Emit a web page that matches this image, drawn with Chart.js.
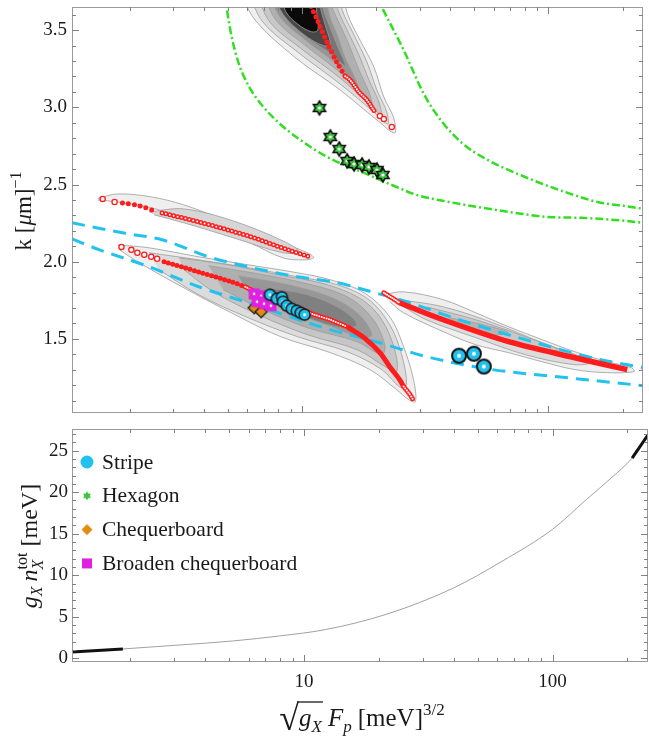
<!DOCTYPE html>
<html>
<head>
<meta charset="UTF-8">
<title>k vs sqrt(gX) Fp</title>
<script src="https://cdn.jsdelivr.net/npm/chart.js"></script>
<style>
  body { margin: 0; background: #fff; }
  #wrap { position: relative; width: 649px; height: 737px; }
  canvas { position: absolute; left: 0; }
  #top { top: 0; }
  #bot { top: 420px; }
</style>
</head>
<body>
<div id="wrap">
  <canvas id="top" width="649" height="420"></canvas>
  <canvas id="bot" width="649" height="317"></canvas>
</div>
<script>
// ---------- axes ----------
const xLimits = [1.167, 242];
const xMajor = [10, 100];
const xMinor = [2, 3, 4, 5, 6, 7, 8, 9, 20, 30, 40, 50, 60, 70, 80, 90, 200];

const kLimits = [1.02, 3.65];
const kMajor = [1.5, 2.0, 2.5, 3.0, 3.5];
const kMinor = [1.1, 1.2, 1.3, 1.4, 1.6, 1.7, 1.8, 1.9, 2.1, 2.2, 2.3, 2.4, 2.6, 2.7, 2.8, 2.9, 3.1, 3.2, 3.3, 3.4, 3.6];

const nLimits = [-0.45, 27.6];
const nMajor = [0, 5, 10, 15, 20, 25];
const nMinor = [1, 2, 3, 4, 6, 7, 8, 9, 11, 12, 13, 14, 16, 17, 18, 19, 21, 22, 23, 24, 26, 27];

// ---------- contour levels (outer -> inner), [x, k] ----------
const blobA = [
  [[5.62,3.75],[6.46,3.565],[9.35,3.325],[14.3,3.112],[20.14,2.918],[23.79,2.834],[23.57,2.931],[21.49,3.067],[19.59,3.261],[17.21,3.435],[15.26,3.61],[14.85,3.75]],
  [[6.05,3.75],[6.95,3.552],[9.61,3.358],[14.3,3.151],[19.77,2.963],[22.3,2.892],[22.09,2.97],[20.14,3.112],[18.36,3.293],[16.28,3.468],[14.57,3.629],[14.17,3.75]],
  [[6.51,3.75],[7.42,3.552],[9.88,3.383],[14.3,3.189],[18.7,3.021],[20.9,2.957],[20.52,3.034],[18.7,3.177],[17.05,3.338],[15.26,3.5],[13.91,3.642],[13.53,3.75]],
  [[6.95,3.75],[7.84,3.565],[10.16,3.409],[13.91,3.241],[17.37,3.099],[19.23,3.021],[18.7,3.099],[17.05,3.241],[15.55,3.403],[14.3,3.532],[13.16,3.662],[12.92,3.75]],
  [[7.28,3.75],[8.21,3.578],[10.35,3.435],[13.53,3.293],[15.98,3.177],[17.21,3.099],[16.43,3.189],[14.98,3.319],[13.91,3.468],[12.92,3.597],[12.45,3.75]],
  [[7.45,3.75],[8.4,3.6],[10.4,3.455],[13.04,3.35],[14.98,3.27],[13.91,3.4],[12.92,3.53],[12.2,3.64],[12.0,3.75]],
  [[7.6,3.75],[8.4,3.6],[10.2,3.47],[12.2,3.4],[13.0,3.41],[12.5,3.52],[11.9,3.64],[11.7,3.75]],
  [[8.1,3.75],[8.6,3.62],[9.6,3.54],[10.9,3.49],[11.6,3.5],[11.5,3.6],[11.3,3.75]]
];
const blobB = [
  [[1.484,2.41],[1.785,2.439],[2.446,2.42],[3.318,2.368],[4.502,2.29],[6.166,2.206],[8.37,2.122],[10.74,2.051],[11.15,2.025],[10.2,2.012],[8.37,2.025],[6.166,2.122],[4.502,2.206],[3.318,2.284],[2.446,2.349],[1.785,2.387],[1.484,2.4]],
  [[2.401,2.323],[3.318,2.342],[5.27,2.264],[8.37,2.135],[9.79,2.064],[8.37,2.058],[5.27,2.155],[3.318,2.252],[2.52,2.303]]
];
const blobC = [
  [[1.786,2.109],[2.401,2.09],[3.812,2.032],[6.053,1.98],[9.61,1.928],[13.04,1.883],[17.86,1.799],[22.71,1.643],[25.85,1.449],[28.36,1.236],[28.88,1.094],[27.08,1.107],[24.23,1.171],[18.87,1.301],[13.04,1.411],[8.21,1.514],[5.17,1.669],[3.257,1.838],[2.189,1.993],[1.819,2.077]],
  [[2.401,2.058],[3.812,2.012],[6.053,1.961],[9.61,1.902],[13.91,1.851],[18.7,1.754],[22.71,1.592],[25.38,1.398],[26.58,1.204],[25.15,1.184],[21.09,1.301],[15.26,1.417],[9.61,1.514],[6.053,1.637],[3.812,1.786],[2.633,1.948]],
  [[3.168,2.025],[5.03,1.98],[7.988,1.916],[12.68,1.851],[17.53,1.754],[21.09,1.624],[23.79,1.43],[24.23,1.288],[22.09,1.314],[16.74,1.43],[10.54,1.527],[6.639,1.657],[4.379,1.805],[3.318,1.948]],
  [[4.181,1.974],[6.639,1.922],[10.54,1.857],[15.26,1.773],[19.23,1.637],[21.69,1.462],[21.09,1.398],[16.74,1.482],[10.54,1.572],[6.95,1.689],[4.8,1.818]],
  [[5.518,1.909],[8.762,1.851],[13.28,1.766],[17.05,1.657],[19.23,1.527],[17.53,1.508],[12.68,1.592],[8.37,1.702],[6.053,1.805]],
  [[7.282,1.831],[10.54,1.786],[14.57,1.689],[16.74,1.592],[14.57,1.572],[10.54,1.637],[7.988,1.734]]
];
const blobD = [
  [[21.49,1.786],[25.86,1.805],[37.43,1.754],[50.78,1.669],[68.9,1.579],[94.36,1.495],[128,1.417],[173.6,1.352],[216.8,1.314],[222.9,1.288],[173.6,1.281],[128,1.301],[94.36,1.352],[68.9,1.411],[50.78,1.462],[37.43,1.547],[25.86,1.669],[22.71,1.741]],
  [[24.91,1.754],[37.43,1.708],[59.44,1.605],[94.36,1.475],[149.8,1.352],[128,1.333],[80.63,1.398],[50.78,1.508],[31.98,1.624],[25.85,1.708]],
  [[31.98,1.708],[50.78,1.624],[80.63,1.514],[109.4,1.43],[80.63,1.443],[50.78,1.54],[35.08,1.643]],
  [[39.56,1.637],[54.2,1.592],[68.9,1.54],[55.7,1.527],[43.4,1.579]]
];

// ---------- curves ----------
const greenInner = [[4.85,3.73],[4.94,3.649],[5.17,3.468],[5.518,3.293],[6.053,3.144],[6.825,3.021],[7.988,2.905],[9.61,2.801],[12.68,2.678],[17.86,2.575],[24.23,2.484],[29.15,2.433],[39.56,2.387],[54.2,2.349],[73.51,2.316],[99.7,2.29],[136.6,2.284],[185.3,2.271],[242,2.252]];
const greenOuter = [[19.95,3.73],[21.1,3.649],[25.86,3.371],[31.39,3.08],[37.08,2.905],[44.62,2.769],[55.7,2.666],[86,2.53],[116.7,2.452],[158.3,2.387],[216.8,2.355],[242,2.342]];
const cyanUpper = [[1.167,2.252],[1.87,2.187],[2.71,2.142],[4.18,2.032],[6.05,1.967],[9.61,1.902],[13.9,1.864],[17.9,1.818],[27.4,1.734],[43.4,1.624],[80.7,1.495],[150,1.378],[242,1.314]];
const cyanLower = [[1.167,2.148],[1.51,2.077],[2.4,1.967],[3.81,1.838],[6.05,1.734],[12.3,1.572],[20.7,1.475],[32,1.385],[59.4,1.301],[109,1.255],[242,1.197]];

// red mean-field branches: filled dots, open-ring chains, thick solid parts
const redA_dots = [[10.6,3.72],[10.74,3.675],[11.56,3.565],[12.68,3.416],[13.91,3.287],[14.98,3.202]];
const redA_rings = [[14.98,3.202],[15.69,3.177],[17.05,3.099],[18.36,3.047],[19.77,2.97]];
const redA_tip = [[20.71,2.944],[21.49,2.924],[23.15,2.873]];
const redB_tip = [[1.554,2.407],[1.737,2.387]];
const redB_dots = [[1.87,2.381],[2.189,2.362],[2.585,2.323]];
const redB_rings = [[2.707,2.316],[3.812,2.258],[6.053,2.167],[8.762,2.077],[10.74,2.032]];
const redC_tip = [[1.853,2.096],[2.032,2.077],[2.149,2.058],[2.292,2.045],[2.446,2.032],[2.585,2.019]];
const redC_dots = [[2.758,1.999],[3.812,1.934],[5.17,1.87],[5.888,1.838]];
const redC_rings = [[5.888,1.838],[7.49,1.754],[9.35,1.708],[11.25,1.656],[13.04,1.624],[15.26,1.579]];
const redC_thick = [[15.26,1.579],[17.86,1.508],[20.71,1.411],[22.71,1.32],[24.91,1.236],[25.85,1.191]];
const redC_end = [[25.85,1.191],[27.08,1.152],[28.1,1.113]];
const redD_thin = [[21.49,1.799],[24.91,1.734]];
const redD_thick = [[24.91,1.734],[37.43,1.624],[68.9,1.482],[128,1.378],[208.9,1.301]];

// ---------- simulation markers ----------
const hexagon = [[11.78,2.996],[13.04,2.808],[14.17,2.73],[15.26,2.653],[16.28,2.633],[17.53,2.627],[18.7,2.614],[20.14,2.594],[21.29,2.562]];
const stripeBig = [[43.4,1.391],[49.85,1.404],[54.7,1.321]];
const stripeSmall = [[7.42,1.786],[7.91,1.76],[8.29,1.77],[8.37,1.741],[8.68,1.715],[9.09,1.695],[9.52,1.682],[9.88,1.669],[10.25,1.657]];
const chequer = [[6.4,1.702],[6.83,1.676]];
const broaden = [[6.4,1.792],[6.83,1.779],[7.28,1.766],[6.58,1.741],[7.02,1.728],[7.49,1.715]];

// ---------- bottom panel ----------
const nTotX = [1.167, 1.87, 3.17, 5.17, 7.99, 12.2, 21.49, 39.56, 62.8, 99.7, 136.6, 173.6, 208.9, 242];
const nTotY = [0.76, 1.12, 1.6, 2.08, 2.69, 3.45, 5.3, 8.4, 11.7, 15.5, 19.1, 21.8, 24.1, 26.9];

const legendNames = ['Stripe', 'Hexagon', 'Chequerboard', 'Broaden chequerboard'];

// ---------- styles ----------
const RED = '#ff1c1c', CYAN = '#22c2ef', GREEN = '#33dd22', STAR = '#3cc43c';
const MAGENTA = '#e021e0', ORANGE = '#e08c0c';
const SERIF = '"Liberation Serif", "DejaVu Serif", serif';
const shadesA = ['#efefef', '#dcdcdc', '#c8c8c8', '#b0b0b0', '#959595', '#767676', '#484848', '#0a0a0a'];
const shadesB = ['#efefef', '#d6d6d6'];
const shadesC = ['#efefef', '#dcdcdc', '#c6c6c6', '#afafaf', '#979797', '#808080'];
const shadesD = ['#efefef', '#dcdcdc', '#c8c8c8', '#b4b4b4'];

function icon(size, draw) {
  const c = document.createElement('canvas');
  c.width = c.height = size;
  draw(c.getContext('2d'), size / 2);
  return c;
}
function starPath(g, c, r) {
  g.beginPath();
  for (let i = 0; i < 12; i++) {
    const a = -Math.PI / 2 + i * Math.PI / 6;
    const rr = i % 2 ? r * 0.58 : r;
    g.lineTo(c + rr * Math.cos(a), c + rr * Math.sin(a));
  }
  g.closePath();
}
const starIcon = icon(18, (g, c) => {
  starPath(g, c, 7); g.fillStyle = STAR; g.fill();
  g.lineWidth = 1.6; g.strokeStyle = '#111'; g.stroke();
  g.beginPath(); g.arc(c, c, 1.6, 0, 7); g.fillStyle = '#fff'; g.fill();
});
function ringIcon(r, lw, dot) {
  return icon(Math.ceil(2 * r + lw + 2), (g, c) => {
    g.beginPath(); g.arc(c, c, r, 0, 7); g.fillStyle = CYAN; g.fill();
    g.lineWidth = lw; g.strokeStyle = '#111'; g.stroke();
    g.beginPath(); g.arc(c, c, dot, 0, 7); g.fillStyle = '#fff'; g.fill();
  });
}
const stripeBigIcon = ringIcon(7, 2, 2);
const stripeSmallIcon = ringIcon(5.5, 1.4, 1.5);
const squareIcon = icon(14, (g, c) => {
  g.fillStyle = MAGENTA; g.fillRect(c - 5.5, c - 5.5, 11, 11);
  g.fillStyle = '#fff'; g.fillRect(c - 1.2, c - 1.2, 2.4, 2.4);
});
const diamondIcon = icon(14, (g, c) => {
  g.beginPath(); g.moveTo(c, c - 6); g.lineTo(c + 6, c); g.lineTo(c, c + 6); g.lineTo(c - 6, c); g.closePath();
  g.fillStyle = ORANGE; g.fill(); g.lineWidth = 1.2; g.strokeStyle = '#111'; g.stroke();
});

// ---------- datasets (paint order, bottom first) ----------
const toXY = pts => pts.map(p => ({ x: p[0], y: p[1] }));
const layers = [];

function contours(levels, shades) {
  levels.forEach((lv, i) => layers.push({
    data: toXY(lv), fill: 'shape', backgroundColor: shades[i],
    borderColor: '#9c9c9c', borderWidth: 0.8, tension: 0.35, pointRadius: 0
  }));
}
function curve(pts, color, width, dash) {
  layers.push({ data: toXY(pts), borderColor: color, borderWidth: width, borderDash: dash || [],
    cubicInterpolationMode: 'monotone', pointRadius: 0, fill: false });
}
function dots(pts, gap) {
  layers.push({ data: toXY(pts), borderColor: RED, borderWidth: 5, borderDash: [0, gap],
    borderCapStyle: 'round', tension: 0.3, pointRadius: 0, fill: false });
}
function rings(pts, gap) {
  dots(pts, gap);
  layers.push({ data: toXY(pts), borderColor: '#fff', borderWidth: 2, borderDash: [0, gap],
    borderCapStyle: 'round', tension: 0.3, pointRadius: 0, fill: false });
}
function openPts(pts) {
  layers.push({ data: toXY(pts), showLine: false, pointStyle: 'circle', pointRadius: 2.6,
    pointBackgroundColor: '#fff', pointBorderColor: RED, pointBorderWidth: 1.3 });
}
function markers(pts, img) {
  layers.push({ data: toXY(pts), showLine: false, pointStyle: img, pointRadius: 5 });
}

contours(blobA, shadesA);
contours(blobB, shadesB);
contours(blobC, shadesC);
contours(blobD, shadesD);
curve(cyanUpper, CYAN, 3, [13, 8]);
curve(cyanLower, CYAN, 3, [13, 8]);
curve(greenInner, GREEN, 2.5, [8, 3, 2, 3]);
curve(greenOuter, GREEN, 2.5, [8, 3, 2, 3]);
dots(redA_dots, 5.5);
rings(redA_rings, 2.5);
openPts(redA_tip);
openPts(redB_tip);
dots(redB_dots, 6);
rings(redB_rings, 4);
openPts(redC_tip);
dots(redC_dots, 4.5);
rings(redC_rings, 2.5);
layers.push({ data: toXY(redC_thick), borderColor: RED, borderWidth: 5, tension: 0.3, pointRadius: 0, fill: false });
rings(redC_end, 2.5);
rings(redD_thin, 2);
layers.push({ data: toXY(redD_thick), borderColor: RED, borderWidth: 5.5, tension: 0.3, pointRadius: 0, fill: false });
markers(chequer, diamondIcon);
markers(broaden, squareIcon);
markers(stripeSmall, stripeSmallIcon);
markers(stripeBig, stripeBigIcon);
markers(hexagon, starIcon);

// ---------- plugins ----------
const frameTicks = {
  id: 'frameTicks',
  afterDatasetsDraw(chart, args, o) {
    const { ctx, chartArea: a } = chart;
    const sx = chart.scales.x, sy = chart.scales.y;
    ctx.save();
    ctx.strokeStyle = '#9a9a9a'; ctx.lineWidth = 1;
    ctx.strokeRect(a.left + 0.5, a.top + 0.5, a.width - 1, a.height - 1);
    ctx.strokeStyle = '#808080';
    ctx.beginPath();
    const xt = (v, len) => {
      const p = Math.round(sx.getPixelForValue(v)) + 0.5;
      ctx.moveTo(p, a.bottom); ctx.lineTo(p, a.bottom - len);
      ctx.moveTo(p, a.top); ctx.lineTo(p, a.top + len);
    };
    const yt = (v, len) => {
      const p = Math.round(sy.getPixelForValue(v)) + 0.5;
      ctx.moveTo(a.left, p); ctx.lineTo(a.left + len, p);
      ctx.moveTo(a.right, p); ctx.lineTo(a.right - len, p);
    };
    xMajor.forEach(v => xt(v, 7));
    xMinor.forEach(v => xt(v, 4));
    o.yMajor.forEach(v => yt(v, 7));
    o.yMinor.forEach(v => yt(v, 4));
    ctx.stroke();
    ctx.restore();
  }
};

function drawRich(ctx, parts, x, y, angle, overY) {
  ctx.save();
  ctx.translate(x, y);
  ctx.rotate(angle);
  let total = 0;
  parts.forEach(p => {
    ctx.font = p.f;
    p.w = ctx.measureText(p.t).width;
    if (p.t2) { ctx.font = p.f2; p.w = Math.max(p.w, ctx.measureText(p.t2).width); }
    total += p.w + (p.gap || 0);
  });
  let cx = -total / 2, o0 = null, o1 = null;
  ctx.fillStyle = '#1a1a1a';
  ctx.textAlign = 'left';
  ctx.textBaseline = 'alphabetic';
  parts.forEach(p => {
    ctx.font = p.f;
    ctx.fillText(p.t, cx, p.dy || 0);
    if (p.t2) { ctx.font = p.f2; ctx.fillText(p.t2, cx, p.dy2); }
    if (p.over) { if (o0 === null) o0 = cx; o1 = cx + p.w; }
    cx += p.w + (p.gap || 0);
  });
  if (o0 !== null) {
    ctx.strokeStyle = '#1a1a1a'; ctx.lineWidth = 1.3;
    ctx.beginPath(); ctx.moveTo(o0 - 2, overY); ctx.lineTo(o1 + 1, overY); ctx.stroke();
  }
  ctx.restore();
}

const topTitle = {
  id: 'topTitle',
  afterDraw(chart) {
    drawRich(chart.ctx, [
      { t: 'k [', f: '23px ' + SERIF },
      { t: 'μ', f: 'italic 23px ' + SERIF },
      { t: 'm]', f: '23px ' + SERIF },
      { t: '−1', f: '16px ' + SERIF, dy: -10 }
    ], 31, 211, -Math.PI / 2);
  }
};

const botTitles = {
  id: 'botTitles',
  afterDraw(chart) {
    const ctx = chart.ctx;
    drawRich(ctx, [
      { t: 'g', f: 'italic 24px ' + SERIF },
      { t: 'X', f: 'italic 16px ' + SERIF, dy: 5, gap: 5 },
      { t: 'n', f: 'italic 24px ' + SERIF },
      { t: 'tot', f: '16px ' + SERIF, dy: -10, t2: 'X', f2: 'italic 16px ' + SERIF, dy2: 6, gap: 6 },
      { t: '[meV]', f: '24px ' + SERIF }
    ], 37, 126, -Math.PI / 2);
    drawRich(ctx, [
      { t: '√', f: '36px ' + SERIF, dy: 4 },
      { t: 'g', f: 'italic 25px ' + SERIF, over: true },
      { t: 'X', f: 'italic 17px ' + SERIF, dy: 6, over: true, gap: 6 },
      { t: 'F', f: 'italic 25px ' + SERIF },
      { t: 'p', f: 'italic 17px ' + SERIF, dy: 6, gap: 6 },
      { t: '[meV]', f: '25px ' + SERIF },
      { t: '3/2', f: '17px ' + SERIF, dy: -11 }
    ], 362, 306, 0, -24);
  }
};

const legendIcons = [
  icon(16, (g, c) => { g.beginPath(); g.arc(c, c, 6.5, 0, 7); g.fillStyle = CYAN; g.fill(); }),
  icon(12, (g, c) => { starPath(g, c, 4.6); g.fillStyle = STAR; g.fill(); }),
  icon(14, (g, c) => { g.beginPath(); g.moveTo(c, c - 5.5); g.lineTo(c + 5.5, c); g.lineTo(c, c + 5.5); g.lineTo(c - 5.5, c); g.closePath(); g.fillStyle = ORANGE; g.fill(); }),
  icon(14, (g, c) => { g.fillStyle = MAGENTA; g.fillRect(c - 5, c - 5, 10, 10); })
];
const markerLegend = {
  id: 'markerLegend',
  afterDraw(chart) {
    const { ctx, chartArea: a } = chart;
    ctx.save();
    ctx.font = '21.5px ' + SERIF;
    ctx.fillStyle = '#1a1a1a';
    ctx.textBaseline = 'middle';
    legendNames.forEach((name, i) => {
      const y = a.top + 33 + i * 33.8;
      const im = legendIcons[i];
      ctx.drawImage(im, a.left + 15 - im.width / 2, y - im.height / 2);
      ctx.fillText(name, a.left + 30, y + 1);
    });
    ctx.restore();
  }
};

// ---------- charts ----------
const tickFont = { family: SERIF, size: 19 };
const noPad = s => { s.paddingTop = 0; s.paddingBottom = 0; s.paddingLeft = 0; s.paddingRight = 0; };

new Chart(document.getElementById('top'), {
  type: 'line',
  data: { datasets: layers.slice().reverse() },
  options: {
    responsive: false, animation: false, events: [],
    layout: { padding: { top: 7, right: 1, bottom: 7, left: 0 } },
    elements: { line: { capBezierPoints: false } },
    plugins: { legend: { display: false }, tooltip: { enabled: false },
      frameTicks: { yMajor: kMajor, yMinor: kMinor } },
    scales: {
      x: { type: 'logarithmic', min: xLimits[0], max: xLimits[1], display: false },
      y: {
        type: 'linear', min: kLimits[0], max: kLimits[1],
        afterBuildTicks: s => { s.ticks = kMajor.map(v => ({ value: v })); },
        afterFit: s => { s.width = 72; noPad(s); },
        ticks: { font: tickFont, color: '#1a1a1a', padding: 5, callback: v => Number(v).toFixed(1) },
        grid: { display: false, drawTicks: false }, border: { display: false }
      }
    }
  },
  plugins: [frameTicks, topTitle]
});

const nTot = nTotX.map((x, i) => [x, nTotY[i]]);
new Chart(document.getElementById('bot'), {
  type: 'line',
  data: {
    datasets: [
      { data: toXY(nTot.slice(-2)), borderColor: '#111', borderWidth: 3, pointRadius: 0 },
      { data: toXY(nTot.slice(0, 2)), borderColor: '#111', borderWidth: 3, pointRadius: 0 },
      { data: toXY(nTot), borderColor: '#a0a0a0', borderWidth: 1, cubicInterpolationMode: 'monotone', pointRadius: 0 }
    ]
  },
  options: {
    responsive: false, animation: false, events: [],
    layout: { padding: { top: 9, right: 1, bottom: 0, left: 0 } },
    elements: { line: { capBezierPoints: false } },
    plugins: { legend: { display: false }, tooltip: { enabled: false },
      frameTicks: { yMajor: nMajor, yMinor: nMinor } },
    scales: {
      x: {
        type: 'logarithmic', min: xLimits[0], max: xLimits[1],
        afterBuildTicks: s => { s.ticks = xMajor.map(v => ({ value: v })); },
        afterFit: s => { s.height = 75; noPad(s); },
        ticks: { font: tickFont, color: '#1a1a1a', padding: 9, maxRotation: 0, autoSkip: false, callback: v => String(v) },
        grid: { display: false, drawTicks: false }, border: { display: false }
      },
      y: {
        type: 'linear', min: nLimits[0], max: nLimits[1],
        afterBuildTicks: s => { s.ticks = nMajor.map(v => ({ value: v })); },
        afterFit: s => { s.width = 72; noPad(s); },
        ticks: { font: tickFont, color: '#1a1a1a', padding: 4, callback: v => String(v) },
        grid: { display: false, drawTicks: false }, border: { display: false }
      }
    }
  },
  plugins: [frameTicks, botTitles, markerLegend]
});
</script>
</body>
</html>
